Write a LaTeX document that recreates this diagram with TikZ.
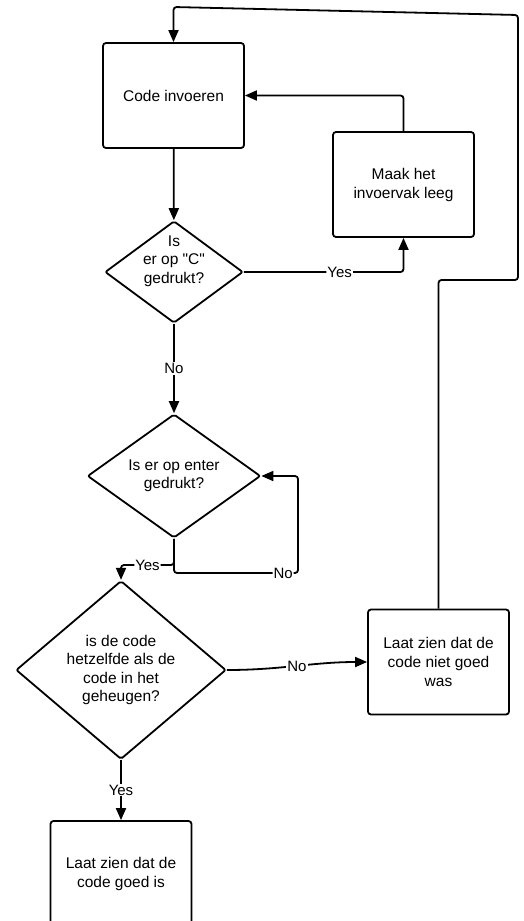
\documentclass[tikz,border=0pt]{standalone}
\usepackage{fontspec}
\setmainfont{Liberation Sans}
\usetikzlibrary{shapes.geometric,arrows.meta}

\begin{document}
\begin{tikzpicture}
            [x=1pt, y=-1pt, line width=1.8pt, >={Triangle[length=12pt,width=10pt]},
            box/.style={draw=black, rounded corners=3pt, minimum width=141pt, minimum height=105pt, align=center, font=\fontsize{15.5}{19}\selectfont},
            decision/.style={draw=black, diamond, rounded corners=2pt, inner sep=0pt, align=center, font=\fontsize{15.5}{18.5}\selectfont},
            answer/.style={fill=white, inner sep=1pt, font=\fontsize{15}{17}\selectfont}]

            \useasboundingbox (0,0) rectangle (523,921);
            \clip (0,0) rectangle (523,921);

            \node[box] (s1) at (173.5,95.5) {Code invoeren};
            \node[box] (s2) at (403.5,184.5) {Maak het\\invoervak leeg};
            \node[decision, minimum width=138pt, minimum height=102pt] (d1) at (174,272) {};
            \node[align=center, inner sep=0pt, font=\fontsize{15.5}{18.5}\selectfont] (t1) at (174,261) {Is\\er op \textquotedbl C\textquotedbl\\gedrukt?};
            \node[decision, minimum width=173pt, minimum height=120pt] (d2) at (174,476) {Is er op enter\\gedrukt?};
            \node[decision, minimum width=210pt, minimum height=156pt] (d3) at (121,670) {is de code\\hetzelfde als de\\code in het\\geheugen?};
            \node[box] (s3) at (438.5,662) {Laat zien dat de\\code niet goed\\was};
            \node[box] (s4) at (121,873.5) {Laat zien dat de\\code goed is};

            \coordinate (c2) at (298,573);
            \coordinate (c3) at (174,565);
            \coordinate (c4) at (518,280);
            \coordinate (c5) at (518,15);
            \coordinate (c6) at (173.5,7);

            \draw[->] (s1) -- (d1);
            \draw[->, rounded corners=3pt] (d1.east) -| node[answer, pos=0.3] {Yes} (s2.south);
            \draw[->, rounded corners=3pt] (s2.north) |- (s1.east);
            \draw[->] (d1) -- node[answer] {No} (d2);
            \draw[->, rounded corners=3pt] (d2.south) |- node[answer, pos=0.94] {No} (c2) |- (d2.east);
            \draw[->, rounded corners=3pt] (d2.south) -- (c3) -| node[answer, pos=0.25] {Yes} (d3.north);
            \draw[->] (d3.east) to[out=0, in=180] node[answer] {No} (s3.west);
            \draw[->] (d3) -- node[answer] {Yes} (s4);
            \draw[->, rounded corners=3pt] (s3.north) |- (c4) -- (c5) -- (c6) -- (s1.north);

        \end{tikzpicture}
\end{document}
